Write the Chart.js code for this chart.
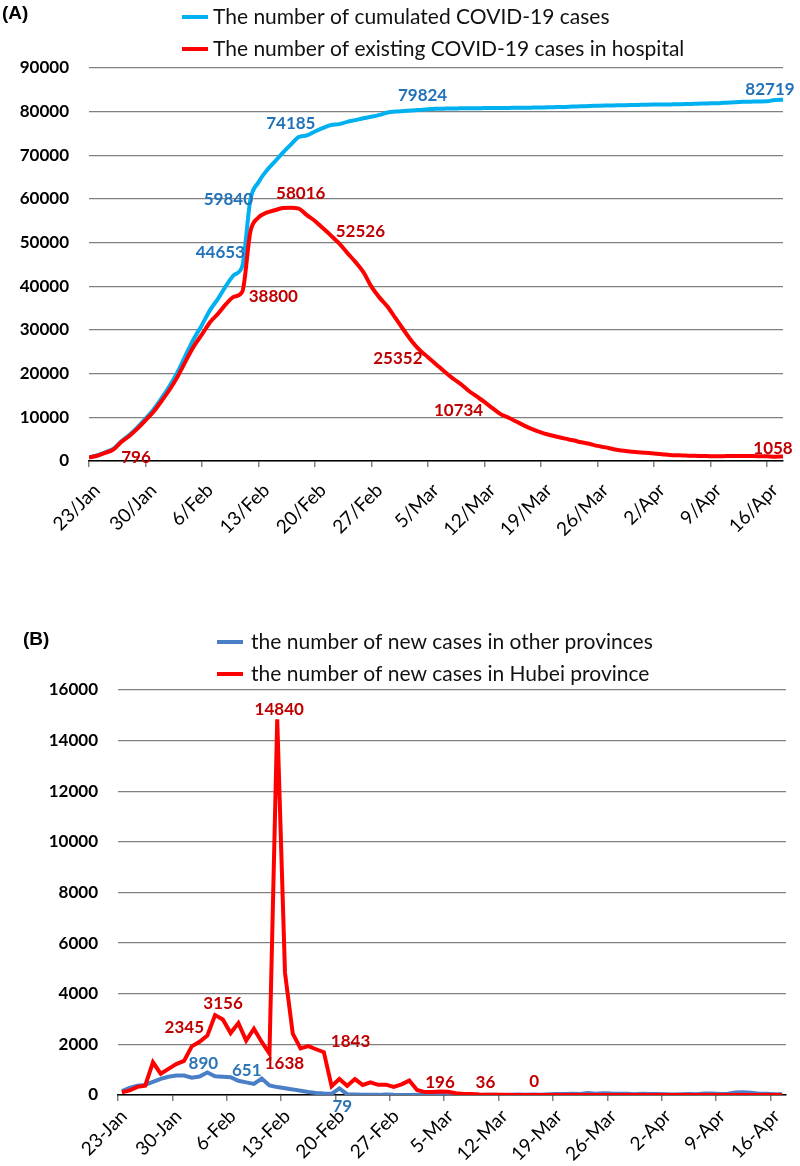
<!DOCTYPE html>
<html>
<head>
<meta charset="utf-8">
<script src="https://cdn.jsdelivr.net/npm/chart.js@4.4.1/dist/chart.umd.min.js"></script>
<style>
  body { margin: 0; background: #fff; }
  canvas { position: absolute; left: 0; }
  #chartA { top: 0; }
  #chartB { top: 583px; }
</style>
</head>
<body>
<canvas id="chartA" width="800" height="583"></canvas>
<canvas id="chartB" width="800" height="583"></canvas>
<script>
// (A) 23 Jan - 18 Apr, one value per day
const tickLabelsA = ['23/Jan','30/Jan','6/Feb','13/Feb','20/Feb','27/Feb','5/Mar','12/Mar','19/Mar','26/Mar','2/Apr','9/Apr','16/Apr'];
const cumulatedCases = [
  830,1287,1975,2744,4515,5974,7711,9692,11791,
  14380,17205,20438,24324,28018,31161,34546,37198,40171,42638,44653,59840,63851,66492,68500,70548,72436,74185,74576,75465,76288,76936,77150,77658,78064,78497,78824,79251,79824,
  80026,80151,80270,80409,80552,80651,80695,80735,80754,80778,80793,80813,80824,80844,80860,80881,80894,80928,80967,81008,81054,81093,81171,81218,81285,81340,81394,81439,81470,81518,81554,
  81589,81620,81639,81669,81708,81740,81802,81865,81907,81953,82052,82160,82249,82295,82341,82367,82692,82719
];
const existingInHospital = [
  796,1208,1870,2613,4349,5739,7417,9308,11289,
  13748,16369,19381,22942,26302,28985,31774,33738,35982,37626,38800,52526,55748,56873,57416,57934,58016,57805,56303,54965,53284,51606,49824,47672,45604,43258,39919,37414,35329,
  32652,30004,27433,25352,23784,22177,20533,19016,17721,16145,14831,13526,12094,10734,9898,8976,8056,7263,6569,6013,5549,5120,4735,4287,3947,3460,3128,2691,2396,2161,2004,
  1863,1727,1562,1376,1299,1242,1190,1160,1116,1089,1138,1156,1170,1137,1107,1081,998,1058
];

// (B) 23 Jan - 17 Apr, one value per day
const tickLabelsB = ['23-Jan','30-Jan','6-Feb','13-Feb','20-Feb','27-Feb','5-Mar','12-Mar','19-Mar','26-Mar','2-Apr','9-Apr','16-Apr'];
const otherProvincesNew = [
  150,280,370,400,520,640,720,770,770,
  680,730,890,740,720,700,560,500,440,651,380,312,267,221,166,115,79,56,45,258,31,18,11,9,5,24,9,4,3,
  6,11,4,5,17,25,3,4,2,11,7,3,7,16,12,20,12,34,39,41,46,39,78,47,67,55,54,45,31,48,36,
  35,31,19,30,39,32,62,63,42,46,99,108,89,46,46,26,27
];
const hubeiNew = [
  105,180,323,371,1291,840,1032,1220,1347,
  1921,2103,2345,3156,2987,2447,2841,2147,2618,2097,1638,14840,4823,2420,1843,1933,1807,1693,349,631,366,630,398,499,401,409,318,423,570,
  196,114,115,134,126,74,41,36,17,13,8,5,4,4,4,1,1,0,0,0,0,0,0,0,0,0,0,0,0,0,0,
  0,0,0,0,0,0,0,0,0,0,0,0,0,0,0,0,0
];

// value labels: [dataset, day, text, dx, dy]
const valueLabelsA = [
  [0, 20, '59840', -22, 0],
  [0, 19, '44653', -22, -13],
  [0, 26, '74185', -8, -14],
  [0, 37, '79824', 35, -17],
  [0, 86, '82719', -13, -10],
  [1, 0, '796', 47, 0],
  [1, 19, '38800', 31, 5],
  [1, 25, '58016', 10, -14],
  [1, 20, '52526', 110, 0],
  [1, 41, '25352', -22, 8],
  [1, 51, '10734', -42, -4],
  [1, 86, '1058', -10, -8]
];
const valueLabelsB = [
  [0, 11, '890', -4, -9],
  [0, 18, '651', -15, -8],
  [0, 28, '79', 3, 18],
  [1, 11, '2345', -23, -8],
  [1, 12, '3156', 8, -12],
  [1, 19, '1638', 15, 10],
  [1, 20, '14840', 2, -10],
  [1, 23, '1843', 50, -7],
  [1, 38, '196', 23, -8],
  [1, 45, '36', 14, -12],
  [1, 55, '0', -15, -13]
];

function decorations(id, panel, legend, labels, labelColors) {
  return {
    id: id,
    afterDatasetsDraw(chart) {
      const ctx = chart.ctx;
      ctx.save();
      ctx.font = 'bold 17px Lato';
      ctx.textAlign = 'center';
      ctx.textBaseline = 'middle';
      labels.forEach(([ds, i, text, dx, dy]) => {
        const p = chart.getDatasetMeta(ds).data[i];
        ctx.fillStyle = labelColors[ds];
        ctx.fillText(text, p.x + dx, p.y + dy);
      });
      ctx.restore();
    },
    afterDraw(chart) {
      const ctx = chart.ctx;
      ctx.save();
      ctx.fillStyle = '#000';
      ctx.font = 'bold 19px "Liberation Sans"';
      ctx.textBaseline = 'middle';
      ctx.fillText(panel.text, panel.x, panel.y);
      ctx.font = '21px Lato';
      chart.data.datasets.forEach((ds, k) => {
        const y = legend.y + k * legend.gap;
        ctx.strokeStyle = ds.borderColor;
        ctx.lineWidth = 4;
        ctx.beginPath();
        ctx.moveTo(legend.x, y);
        ctx.lineTo(legend.x + 26, y);
        ctx.stroke();
        ctx.fillStyle = '#111';
        ctx.fillText(ds.label, legend.x + legend.textGap, y);
      });
      ctx.restore();
    }
  };
}

function xAxis(labels, height, shift, pad) {
  return {
    type: 'linear', min: 0, max: 86,
    afterFit(s) { s.height = height; },
    ticks: {
      stepSize: 7, includeBounds: false, autoSkip: false,
      maxRotation: 45, minRotation: 45,
      font: { family: 'Lato', size: 19 }, color: '#000', padding: pad, labelOffset: shift,
      callback: v => labels[v / 7]
    },
    grid: { drawOnChartArea: false, drawTicks: true, tickLength: 6, color: '#808080', lineWidth: 1.5 },
    border: { color: '#000', width: 1.5 }
  };
}

function yAxis(max, step, width) {
  return {
    min: 0, max: max,
    afterFit(s) { s.width = width; },
    ticks: {
      stepSize: step, font: { family: 'Lato', size: 17, weight: 'bold' }, color: '#000', padding: 20,
      callback: v => String(v)
    },
    grid: { color: '#808080', lineWidth: 1.3, drawTicks: false },
    border: { display: false }
  };
}

new Chart(document.getElementById('chartA'), {
  type: 'line',
  data: {
    datasets: [
      {
        label: 'The number of cumulated COVID-19 cases',
        data: cumulatedCases.map((v, i) => ({ x: i, y: v })),
        borderColor: '#00B0F0', borderWidth: 4, pointRadius: 0,
        cubicInterpolationMode: 'monotone', order: 1
      },
      {
        label: 'The number of existing COVID-19 cases in hospital',
        data: existingInHospital.map((v, i) => ({ x: i, y: v })),
        borderColor: '#FF0000', borderWidth: 4, pointRadius: 0,
        cubicInterpolationMode: 'monotone', order: 0
      }
    ]
  },
  options: {
    responsive: false, animation: false,
    layout: { padding: { top: 68, right: 17, left: 0, bottom: 0 } },
    plugins: { legend: { display: false }, tooltip: { enabled: false } },
    scales: { x: xAxis(tickLabelsA, 122, 8, 12), y: yAxis(90000, 10000, 89) }
  },
  plugins: [decorations('decoA', { text: '(A)', x: 2, y: 14 }, { x: 182, y: 17, gap: 32, textGap: 31 }, valueLabelsA, ['#2272B9', '#C00000'])]
});

new Chart(document.getElementById('chartB'), {
  type: 'line',
  data: {
    datasets: [
      {
        label: 'the number of new cases in other provinces',
        data: otherProvincesNew.map((v, i) => ({ x: i + 0.5, y: v })),
        borderColor: '#4A7EC7', borderWidth: 4, pointRadius: 0, tension: 0, order: 1
      },
      {
        label: 'the number of new cases in Hubei province',
        data: hubeiNew.map((v, i) => ({ x: i + 0.5, y: v })),
        borderColor: '#FF0000', borderWidth: 4, pointRadius: 0, tension: 0, order: 0
      }
    ]
  },
  options: {
    responsive: false, animation: false,
    layout: { padding: { top: 107, right: 14, left: 0, bottom: 0 } },
    plugins: { legend: { display: false }, tooltip: { enabled: false } },
    scales: { x: xAxis(tickLabelsB, 71, 6, 4), y: yAxis(16000, 2000, 118) }
  },
  plugins: [decorations('decoB', { text: '(B)', x: 23, y: 57 }, { x: 217, y: 59, gap: 32, textGap: 34 }, valueLabelsB, ['#2E75B6', '#C00000'])]
});
</script>
</body>
</html>
